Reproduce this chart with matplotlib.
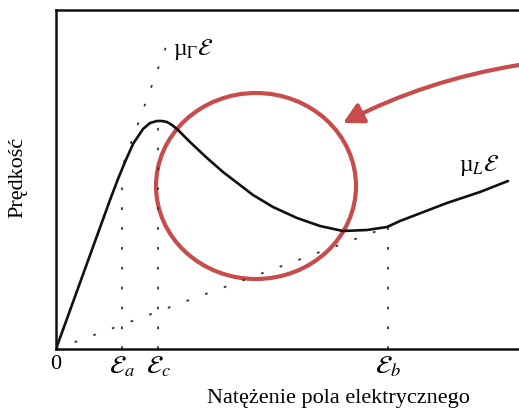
import matplotlib.pyplot as plt
from matplotlib.patches import Ellipse, FancyArrowPatch

plt.rcParams['font.family'] = ['Liberation Serif', 'DejaVu Serif']
plt.rcParams['mathtext.fontset'] = 'stix'

# drift velocity vs field strength (arbitrary units)
field = [0, 5.4, 6.2, 6.9, 7.7, 8.7, 9.4, 10.1, 10.6, 11.1, 11.6, 12.1, 13.4,
         15.1, 16.7, 18.4, 19.7, 21.7, 24.1, 26.4, 28.7, 31.1, 33.1, 34.4,
         35.7, 39.1, 42.4, 45.2]
velocity = [0, 14.9, 17.0, 18.7, 20.5, 22.0, 22.6, 22.8, 22.8, 22.7, 22.4,
            22.0, 20.7, 19.1, 17.7, 16.4, 15.4, 14.2, 13.1, 12.3, 11.8, 11.9,
            12.2, 12.8, 13.3, 14.6, 15.7, 16.8]

# characteristic fields and helper lines
e_a, e_c, e_b = 6.6, 10.2, 33.2
v_a, v_c, v_b = 17.0, 22.8, 12.2
gamma_line_x = [0, 11.5]
gamma_line_y = [0, 31.6]
l_line_x = [0, e_b]
l_line_y = [0, v_b]

tick_pos = [0, e_a, e_c, e_b]
tick_labels = ['0', r'$\mathcal{E}_a$', r'$\mathcal{E}_c$', r'$\mathcal{E}_b$']

fig = plt.figure(figsize=(5.19, 4.09), dpi=100)
ax = fig.add_axes([56 / 519, 60 / 409, 1 - 56 / 519, 339 / 409])
ax.set_xlim(0, 46.3)
ax.set_ylim(0, 33.9)

dots = (0, (1.5, 9.5))
for xs, ys in [(gamma_line_x, gamma_line_y), (l_line_x, l_line_y),
               ([e_a, e_a], [0, v_a]), ([e_c, e_c], [0, v_c]),
               ([e_b, e_b], [0, v_b])]:
    ax.plot(xs, ys, color='#333333', lw=1.3, ls=dots)

ax.plot(field, velocity, color='#111111', lw=1.9, solid_capstyle='round',
        solid_joinstyle='round')

ax.text(11.7, 30.0, r'µ$_\Gamma\mathcal{E}$', fontsize=17, va='center', ha='left')
ax.text(40.3, 18.4, r'µ$_L\mathcal{E}$', fontsize=17, va='center', ha='left')

# red highlight
red = '#c84c4c'
ax.add_patch(Ellipse((20.0, 16.3), 20.0, 18.6, fill=False, ec=red, lw=3.0,
                     clip_on=False))
arrow = FancyArrowPatch((46.3, 28.4), (28.7, 22.6), connectionstyle='arc3,rad=0.08',
                        arrowstyle='-|>,head_length=0.6,head_width=0.32',
                        mutation_scale=20, color=red, lw=3.0, shrinkA=0, shrinkB=0,
                        clip_on=False)
ax.add_patch(arrow)

for s in ['left', 'bottom', 'top']:
    ax.spines[s].set_linewidth(1.8)
    ax.spines[s].set_color('#111111')
ax.spines['right'].set_visible(False)

ax.set_yticks([])
ax.set_xticks(tick_pos)
ax.set_xticklabels(tick_labels, fontsize=19)
ax.get_xticklabels()[0].set_fontsize(16)
ax.tick_params(axis='x', length=0, pad=4)

fig.text(338 / 519, 1 - 398 / 409, 'Natężenie pola elektrycznego', fontsize=16,
         ha='center', va='center')
fig.text(18 / 519, 1 - 177 / 409, 'Prędkość', fontsize=16, rotation=90,
         ha='center', va='center')

fig.savefig('out.png', dpi=100)
